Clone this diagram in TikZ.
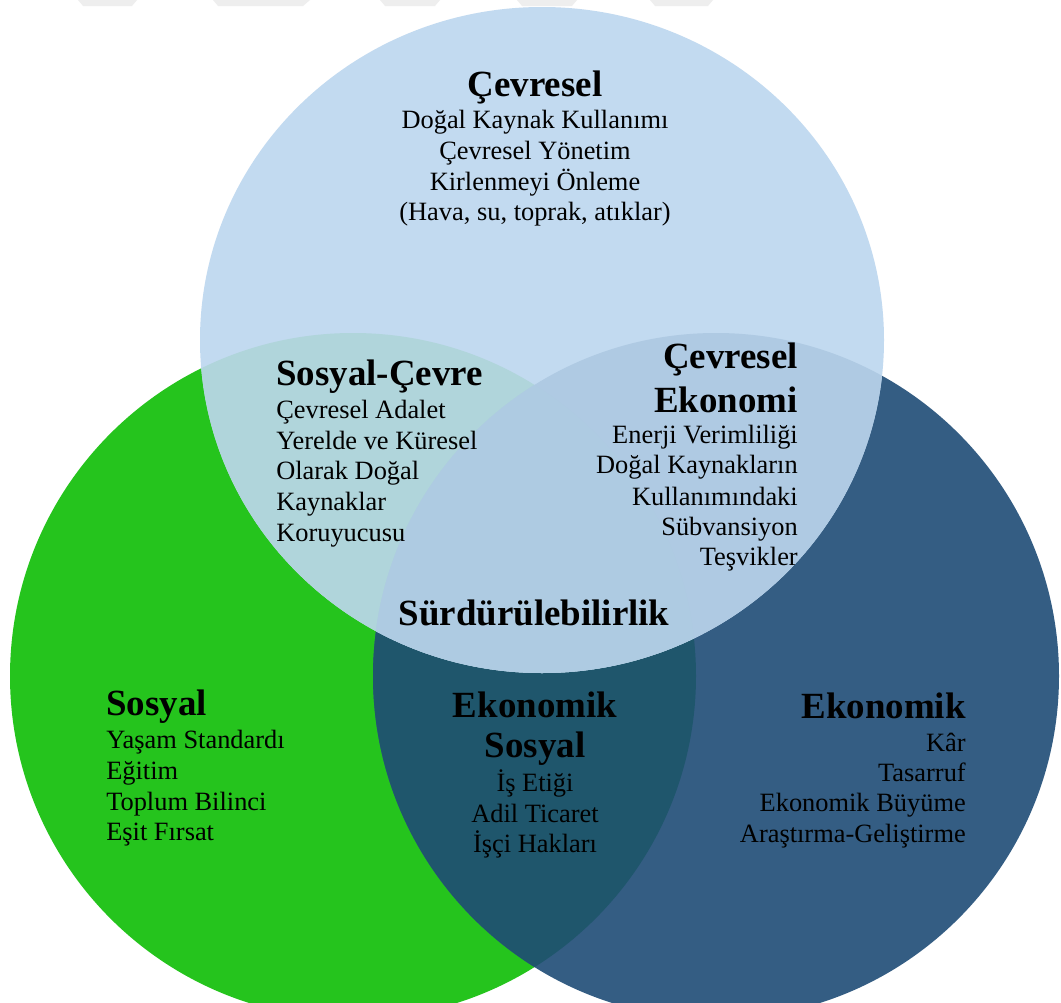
\documentclass[tikz,border=0pt]{standalone}
\usepackage{fontspec}
\setmainfont{Liberation Serif}
\definecolor{topc}{HTML}{C2DAF0}
\definecolor{greenc}{HTML}{25C41D}
\definecolor{darkc}{HTML}{345D83}
\definecolor{tealc}{HTML}{1F566C}
\definecolor{bgc}{HTML}{B0D5DB}
\definecolor{bdc}{HTML}{AFCAE3}
\definecolor{tric}{HTML}{AECBE2}
\definecolor{markc}{HTML}{EEEEEE}
\tikzset{
  ttl/.style={font=\fontsize{27.7}{33}\selectfont\bfseries, inner sep=0pt},
  bdy/.style={font=\fontsize{19.8}{23}\selectfont, inner sep=0pt},
}
\begin{document}
\begin{tikzpicture}[x=0.75pt,y=-0.75pt]
\useasboundingbox (0,0) rectangle (1061,1003);
\clip (0,0) rectangle (1061,1003);
\fill[white] (0,0) rectangle (1061,1003);
% faint marks at the top
\fill[markc] (78,0) -- (137,0) -- (132,6) -- (83,6) -- cycle;
\fill[markc] (213,0) -- (310,0) -- (303,6) -- (218,6) -- cycle;
\fill[markc] (380,0) -- (440,0) -- (435,6) -- (385,6) -- cycle;
\fill[markc] (517,0) -- (577,0) -- (572,6) -- (522,6) -- cycle;
\fill[markc] (650,0) -- (713,0) -- (708,6) -- (655,6) -- cycle;
% circles
\fill[greenc] (353,676) circle[radius=343];
\fill[darkc] (716,676) circle[radius=343];
\begin{scope}
  \clip (353,676) circle[radius=343];
  \fill[tealc] (716,676) circle[radius=343];
\end{scope}
\fill[topc] (542,340) ellipse[x radius=342, y radius=333];
\begin{scope}
  \clip (542,340) ellipse[x radius=342, y radius=333];
  \fill[bgc] (353,676) circle[radius=343];
  \fill[bdc] (716,676) circle[radius=343];
  \begin{scope}
    \clip (353,676) circle[radius=343];
    \fill[tric] (716,676) circle[radius=343];
  \end{scope}
\end{scope}
% Cevresel
\node[ttl, anchor=base] (c0) at (535,96) {Çevresel};
\node[bdy, anchor=base] (c1) at (535,128) {Doğal Kaynak Kullanımı};
\node[bdy, anchor=base] (c2) at (535,159) {Çevresel Yönetim};
\node[bdy, anchor=base] (c3) at (535,190) {Kirlenmeyi Önleme};
\node[bdy, anchor=base] (c4) at (535,220) {(Hava, su, toprak, atıklar)};
% Sosyal-Cevre
\node[ttl, anchor=base west] (sc0) at (276,385) {Sosyal-Çevre};
\node[bdy, anchor=base west] (sc1) at (276,418) {Çevresel Adalet};
\node[bdy, anchor=base west] (sc2) at (276,449) {Yerelde ve Küresel};
\node[bdy, anchor=base west] (sc3) at (276,479) {Olarak Doğal};
\node[bdy, anchor=base west] (sc4) at (276,510) {Kaynaklar};
\node[bdy, anchor=base west] (sc5) at (276,541) {Koruyucusu};
% Cevresel Ekonomi
\node[ttl, anchor=base east] (ce0) at (798,368) {Çevresel};
\node[ttl, anchor=base east] (ce1) at (798,412) {Ekonomi};
\node[bdy, anchor=base east] (ce2) at (798,443) {Enerji Verimliliği};
\node[bdy, anchor=base east] (ce3) at (798,473) {Doğal Kaynakların};
\node[bdy, anchor=base east] (ce4) at (798,505) {Kullanımındaki};
\node[bdy, anchor=base east] (ce5) at (798,535) {Sübvansiyon};
\node[bdy, anchor=base east] (ce6) at (798,565) {Teşvikler};
% center
\node[ttl, anchor=base] (sur) at (534,625) {Sürdürülebilirlik};
% Ekonomik Sosyal
\node[ttl, anchor=base] (es0) at (535,717) {Ekonomik};
\node[ttl, anchor=base] (es1) at (535,757) {Sosyal};
\node[bdy, anchor=base] (es2) at (535,791) {İş Etiği};
\node[bdy, anchor=base] (es3) at (535,822) {Adil Ticaret};
\node[bdy, anchor=base] (es4) at (535,852) {İşçi Hakları};
% Sosyal
\node[ttl, anchor=base west] (s0) at (106,715) {Sosyal};
\node[bdy, anchor=base west] (s1) at (106,748) {Yaşam Standardı};
\node[bdy, anchor=base west] (s2) at (106,779) {Eğitim};
\node[bdy, anchor=base west] (s3) at (106,810) {Toplum Bilinci};
\node[bdy, anchor=base west] (s4) at (106,840) {Eşit Fırsat};
% Ekonomik
\node[ttl, anchor=base east] (e0) at (966,718) {Ekonomik};
\node[bdy, anchor=base east] (e1) at (966,751) {Kâr};
\node[bdy, anchor=base east] (e2) at (966,781) {Tasarruf};
\node[bdy, anchor=base east] (e3) at (966,811) {Ekonomik Büyüme};
\node[bdy, anchor=base east] (e4) at (966,842) {Araştırma-Geliştirme};
\end{tikzpicture}
\end{document}
